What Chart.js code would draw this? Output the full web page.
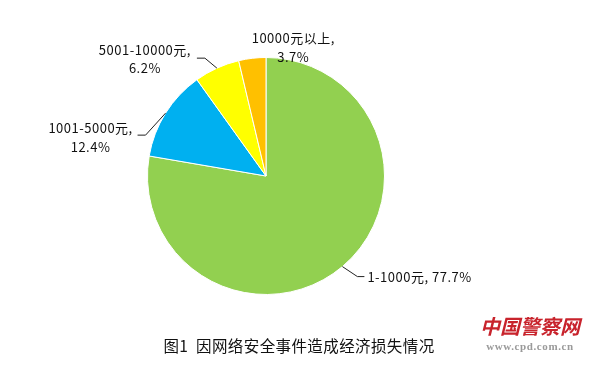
<!DOCTYPE html>
<html>
<head>
<meta charset="utf-8">
<script src="https://cdn.jsdelivr.net/npm/chart.js@4/dist/chart.umd.min.js"></script>
<style>
  html, body { margin: 0; padding: 0; background: #fff; }
  #wrap { position: relative; width: 598px; height: 368px; }
  #caption {
    position: absolute; left: 0; width: 598px; top: 334px; text-align: center;
    font: 15.5px "Noto Sans CJK SC", sans-serif; color: #111; letter-spacing: 0.4px;
    line-height: 22px; white-space: nowrap;
  }
  #mark { position: absolute; left: 474px; top: 312px; width: 112px; text-align: center; white-space: nowrap; }
  #mark .cn { font: bold 20px "Noto Sans CJK SC", serif; color: #c8232c; line-height: 28px; font-style: italic; }
  #mark .url { font: bold 11px "Liberation Serif", serif; color: #9a9a9a; line-height: 12px; letter-spacing: 0.6px; }
</style>
</head>
<body>
<div id="wrap">
  <canvas id="pie" width="598" height="368"></canvas>
  <div id="caption">图1&nbsp;&nbsp;因网络安全事件造成经济损失情况</div>
  <div id="mark"><div class="cn">中国警察网</div><div class="url">www.cpd.com.cn</div></div>
</div>
<script>
const categories = ["1-1000元", "1001-5000元", "5001-10000元", "10000元以上"];
const shares = [77.7, 12.4, 6.2, 3.7];
const colors = ["#92D050", "#00B0F0", "#FFFF00", "#FFC000"];

// where each label sits relative to the slice edge point (layout only)
const labelLayout = [
  { elbow: [15, 10], tail: 7, oneLine: true, text: [3, 0] },
  { elbow: [-20, 22], tail: -8, text: [-47, -7, 12] },
  { elbow: [-12, -10], tail: -8, text: [-52, -8, 10] },
  { elbow: null, text: [41, -20, -1] },
];

const leaderLabels = {
  id: "leaderLabels",
  afterDatasetsDraw(chart) {
    const ctx = chart.ctx;
    const arcs = chart.getDatasetMeta(0).data;
    ctx.save();
    ctx.font = '13px "Noto Sans CJK SC", sans-serif';
    ctx.letterSpacing = "0.5px";
    ctx.fillStyle = "#111";
    ctx.strokeStyle = "#222";
    ctx.lineWidth = 1;
    ctx.textBaseline = "middle";
    arcs.forEach((arc, i) => {
      const p = arc.getProps(["x", "y", "startAngle", "endAngle", "outerRadius"], true);
      const a = (p.startAngle + p.endAngle) / 2;
      const ex = p.x + Math.cos(a) * p.outerRadius;
      const ey = p.y + Math.sin(a) * p.outerRadius;
      const L = labelLayout[i];
      const pct = shares[i].toFixed(1) + "%";
      let ax = ex, ay = ey;
      if (L.elbow) {
        const bx = ex + L.elbow[0], by = ey + L.elbow[1];
        ax = bx + L.tail; ay = by;
        ctx.beginPath();
        ctx.moveTo(ex, ey);
        ctx.lineTo(bx, by);
        ctx.lineTo(ax, ay);
        ctx.stroke();
      }
      if (L.oneLine) {
        ctx.textAlign = "left";
        ctx.fillText(categories[i] + ", " + pct, ax + L.text[0], ay + L.text[1]);
      } else {
        ctx.textAlign = "center";
        ctx.fillText(categories[i] + ",", ax + L.text[0], ay + L.text[1]);
        ctx.fillText(pct, ax + L.text[0], ay + L.text[2]);
      }
    });
    ctx.restore();
  },
};

new Chart(document.getElementById("pie"), {
  type: "pie",
  data: {
    labels: categories,
    datasets: [
      {
        data: shares,
        backgroundColor: colors,
        borderColor: "#ffffff",
        borderWidth: 1,
        hoverOffset: 0,
      },
    ],
  },
  options: {
    responsive: false,
    animation: false,
    layout: { padding: { left: 147, top: 57, right: 213, bottom: 73 } },
    plugins: {
      legend: { display: false },
      tooltip: { enabled: false },
      title: { display: false },
    },
  },
  plugins: [leaderLabels],
});
</script>
</body>
</html>
